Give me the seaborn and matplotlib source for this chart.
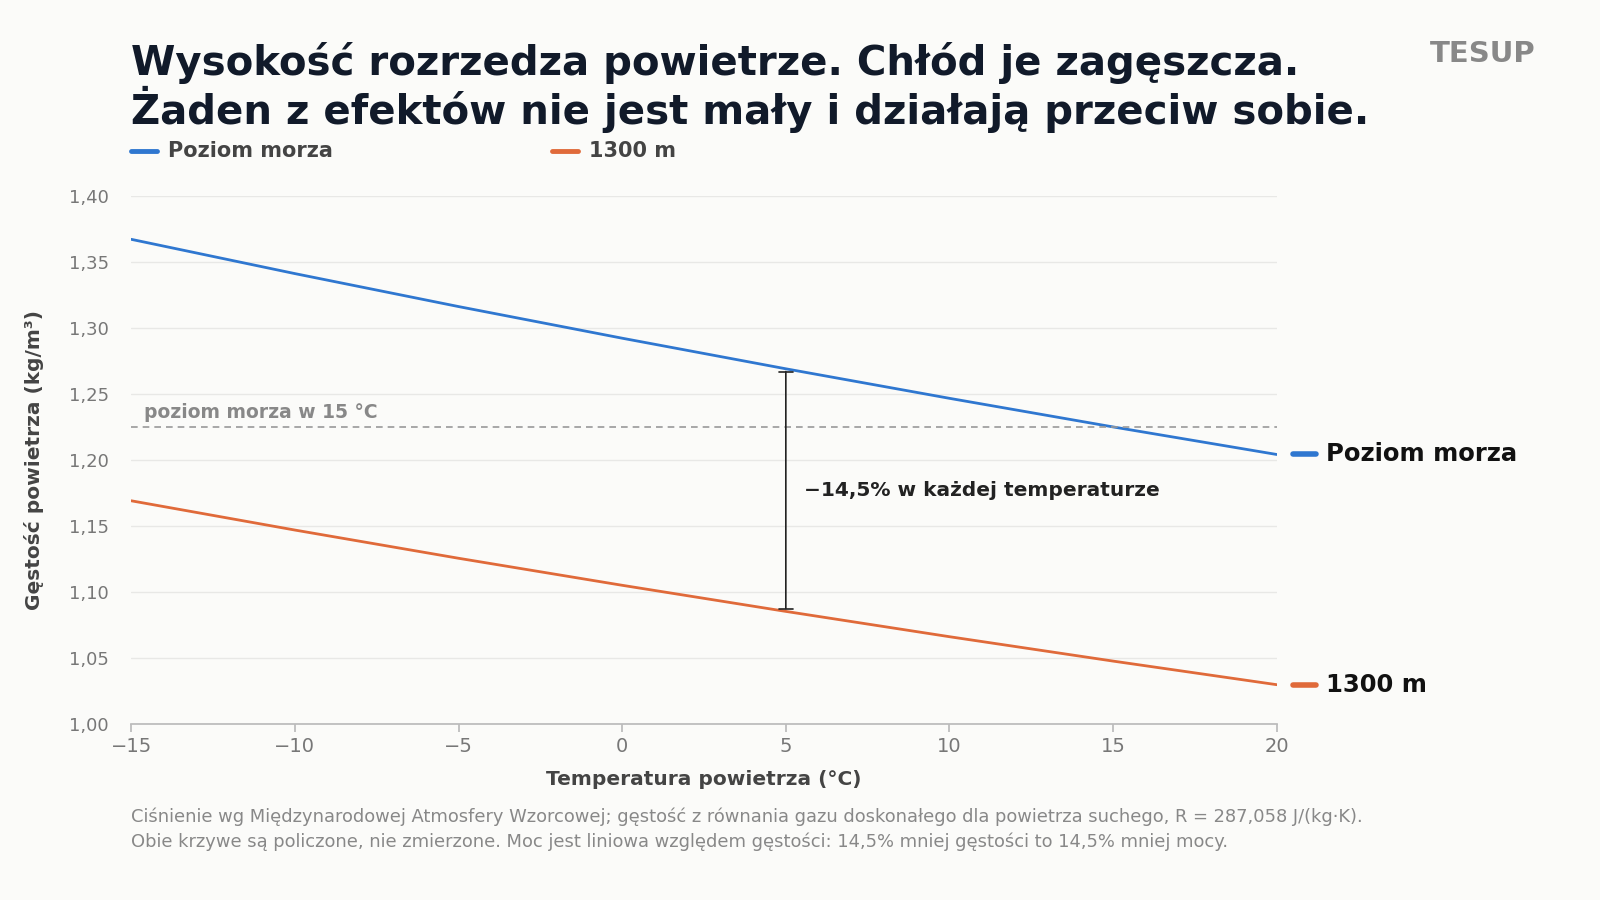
import matplotlib
matplotlib.use("Agg")
import matplotlib.pyplot as plt
import seaborn as sns
import pandas as pd

temps = [-15, -10, -5, 0, 5, 10, 15, 20]
sea_level = [1.3673, 1.3413, 1.3163, 1.2923, 1.2691, 1.2467, 1.2250, 1.2041]
alt_1300 = [1.1690, 1.1468, 1.1254, 1.1049, 1.0851, 1.0659, 1.0474, 1.0295]
ref_15 = 1.225
yticks = [1.00, 1.05, 1.10, 1.15, 1.20, 1.25, 1.30, 1.35, 1.40]
xticks = [-15, -10, -5, 0, 5, 10, 15, 20]
BLUE, ORANGE = "#2f77d0", "#e06a3a"

sns.set_theme(style="white")
plt.rcParams['font.family'] = ['DejaVu Sans']
plt.rcParams['font.sans-serif'] = ['DejaVu Sans']
bg = "#fbfbf9"
fig = plt.figure(figsize=(16, 9), dpi=100, facecolor=bg)
ax = fig.add_axes([0.082, 0.196, 0.716, 0.586], facecolor=bg)

df = pd.DataFrame({"t": temps * 2, "rho": sea_level + alt_1300,
                   "s": ["Poziom morza"] * len(temps) + ["1300 m"] * len(temps)})
sns.lineplot(data=df, x="t", y="rho", hue="s", palette=[BLUE, ORANGE], lw=2, ax=ax, legend=False)

ax.set_xlim(-15, 20); ax.set_ylim(1.0, 1.4)
ax.set_yticks(yticks); ax.set_xticks(xticks)
ax.set_yticklabels([f"{v:.2f}".replace(".", ",") for v in yticks], color="#777", fontsize=13)
ax.set_xticklabels([str(v).replace("-", "\u2212") for v in xticks], color="#777", fontsize=14)
ax.grid(axis="y", color="#e8e8e6", lw=1)
for s in ["top", "right", "left"]:
    ax.spines[s].set_visible(False)
ax.spines["bottom"].set_color("#bbb")
ax.tick_params(axis="x", length=6, color="#bbb", bottom=True)
ax.tick_params(axis="y", length=0, pad=16)
ax.set_xlabel("Temperatura powietrza (°C)", fontsize=14.5, fontweight="bold", color="#444", labelpad=10)
ax.set_ylabel("Gęstość powietrza (kg/m³)", fontsize=14.5, fontweight="bold", color="#444", labelpad=18)

ax.axhline(ref_15, color="#999", ls=(0, (4, 3)), lw=1.2)
ax.text(-14.6, 1.232, "poziom morza w 15 °C", color="#888", fontsize=13.5, fontweight="bold")

i5 = temps.index(5)
ax.annotate("", xy=(5, alt_1300[i5]), xytext=(5, sea_level[i5]),
            arrowprops=dict(arrowstyle="|-|", color="#222", lw=1.2, mutation_scale=5))
ax.text(5.55, 1.177, "\u221214,5% w każdej temperaturze", fontsize=14.5, fontweight="bold", color="#222", va="center")

for y, lab, c in [(sea_level[-1], "Poziom morza", BLUE), (alt_1300[-1], "1300 m", ORANGE)]:
    ax.plot([20.5, 21.2], [y, y], color=c, lw=4, clip_on=False, solid_capstyle="round")
    ax.text(21.5, y, lab, fontsize=17.5, fontweight="bold", color="#111", va="center")

fig.text(0.082, 0.93, "Wysokość rozrzedza powietrze. Chłód je zagęszcza.", fontsize=29, fontweight="bold", color="#111a2a", va="center")
fig.text(0.082, 0.878, "Żaden z efektów nie jest mały i działają przeciw sobie.", fontsize=29, fontweight="bold", color="#111a2a", va="center")
fig.text(0.96, 0.94, "TESUP", fontsize=21, fontweight="bold", color="#888", ha="right", va="center")

for x, lab, c in [(0.082, "Poziom morza", BLUE), (0.345, "1300 m", ORANGE)]:
    fig.add_artist(plt.Line2D([x, x + 0.016], [0.832, 0.832], color=c, lw=3.5, transform=fig.transFigure))
    fig.text(x + 0.023, 0.832, lab, fontsize=15, fontweight="bold", color="#444", va="center")

fig.text(0.082, 0.093, "Ciśnienie wg Międzynarodowej Atmosfery Wzorcowej; gęstość z równania gazu doskonałego dla powietrza suchego, R = 287,058 J/(kg·K).", fontsize=12.9, color="#888", va="center")
fig.text(0.082, 0.065, "Obie krzywe są policzone, nie zmierzone. Moc jest liniowa względem gęstości: 14,5% mniej gęstości to 14,5% mniej mocy.", fontsize=12.9, color="#888", va="center")

fig.savefig("out.png", facecolor=bg)
